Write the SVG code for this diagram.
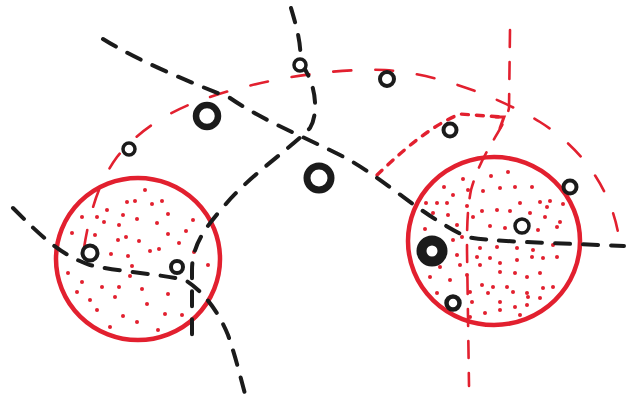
<svg xmlns="http://www.w3.org/2000/svg" width="637" height="396" viewBox="0 0 637 396">
<style>
.zone{fill:none;stroke:#e2202f;stroke-width:4.5}
.dot{fill:#e2202f}
.dot circle{r:2px}
.ring{fill:#fff;stroke:#1b1b1b}
.blk{fill:none;stroke:#1b1b1b;stroke-width:4;stroke-linecap:round;stroke-dasharray:15 13}
.red{fill:none;stroke:#e2202f;stroke-width:2.6;stroke-linecap:round;stroke-dasharray:18 24}
.redv{fill:none;stroke:#e2202f;stroke-width:2.6;stroke-linecap:round;stroke-dasharray:17 15}
.reda{fill:none;stroke:#e2202f;stroke-width:3.4;stroke-linecap:round;stroke-dasharray:7 8}
</style>
<rect width="637" height="396" fill="#fff"/>
<g id="zone-left">
<ellipse class="zone" cx="138" cy="259" rx="82" ry="81"/>
<g class="dot">
<circle cx="127" cy="202" r="2"/><circle cx="135" cy="201" r="2"/><circle cx="152" cy="204" r="2"/><circle cx="162" cy="201" r="2"/>
<circle cx="107" cy="210" r="2"/><circle cx="82" cy="217" r="2"/><circle cx="97" cy="217" r="2"/><circle cx="123" cy="215" r="2"/>
<circle cx="137" cy="219" r="2"/><circle cx="168" cy="214" r="2"/><circle cx="193" cy="220" r="2"/><circle cx="104" cy="222" r="2"/>
<circle cx="157" cy="223" r="2"/><circle cx="72" cy="233" r="2"/><circle cx="95" cy="235" r="2"/><circle cx="119" cy="225" r="2"/>
<circle cx="126" cy="237" r="2"/><circle cx="118" cy="240" r="2"/><circle cx="139" cy="241" r="2"/><circle cx="168" cy="234" r="2"/>
<circle cx="186" cy="231" r="2"/><circle cx="179" cy="243" r="2"/><circle cx="150" cy="251" r="2"/><circle cx="159" cy="249" r="2"/>
<circle cx="194" cy="252" r="2"/><circle cx="111" cy="254" r="2"/><circle cx="128" cy="256" r="2"/><circle cx="132" cy="266" r="2"/>
<circle cx="208" cy="265" r="2"/><circle cx="68" cy="273" r="2"/><circle cx="130" cy="276" r="2"/><circle cx="82" cy="282" r="2"/>
<circle cx="102" cy="287" r="2"/><circle cx="119" cy="287" r="2"/><circle cx="142" cy="289" r="2"/><circle cx="168" cy="294" r="2"/>
<circle cx="77" cy="292" r="2"/><circle cx="90" cy="300" r="2"/><circle cx="115" cy="297" r="2"/><circle cx="147" cy="304" r="2"/>
<circle cx="97" cy="310" r="2"/><circle cx="165" cy="314" r="2"/><circle cx="182" cy="315" r="2"/><circle cx="123" cy="316" r="2"/>
<circle cx="137" cy="322" r="2"/><circle cx="110" cy="327" r="2"/><circle cx="158" cy="330" r="2"/><circle cx="145" cy="190" r="2"/>
</g>
</g>
<g id="zone-right">
<ellipse class="zone" cx="494" cy="241" rx="86" ry="84"/>
<g class="dot">
<circle cx="463" cy="179" r="2"/><circle cx="491" cy="176" r="2"/><circle cx="508" cy="172" r="2"/><circle cx="444" cy="187" r="2"/>
<circle cx="468" cy="190" r="2"/><circle cx="483" cy="191" r="2"/><circle cx="500" cy="188" r="2"/><circle cx="515" cy="187" r="2"/>
<circle cx="532" cy="187" r="2"/><circle cx="453" cy="195" r="2"/><circle cx="520" cy="203" r="2"/><circle cx="540" cy="202" r="2"/>
<circle cx="550" cy="201" r="2"/><circle cx="426" cy="203" r="2"/><circle cx="437" cy="203" r="2"/><circle cx="447" cy="203" r="2"/>
<circle cx="467" cy="206" r="2"/><circle cx="482" cy="211" r="2"/><circle cx="497" cy="210" r="2"/><circle cx="510" cy="211" r="2"/>
<circle cx="547" cy="207" r="2"/><circle cx="563" cy="204" r="2"/><circle cx="433" cy="213" r="2"/><circle cx="448" cy="215" r="2"/>
<circle cx="473" cy="217" r="2"/><circle cx="530" cy="213" r="2"/><circle cx="545" cy="217" r="2"/><circle cx="560" cy="222" r="2"/>
<circle cx="425" cy="229" r="2"/><circle cx="457" cy="225" r="2"/><circle cx="490" cy="226" r="2"/><circle cx="505" cy="228" r="2"/>
<circle cx="538" cy="230" r="2"/><circle cx="557" cy="227" r="2"/><circle cx="453" cy="240" r="2"/><circle cx="462" cy="237" r="2"/>
<circle cx="480" cy="248" r="2"/><circle cx="497" cy="247" r="2"/><circle cx="517" cy="248" r="2"/><circle cx="533" cy="250" r="2"/>
<circle cx="553" cy="245" r="2"/><circle cx="443" cy="253" r="2"/><circle cx="457" cy="255" r="2"/><circle cx="477" cy="257" r="2"/>
<circle cx="490" cy="258" r="2"/><circle cx="500" cy="263" r="2"/><circle cx="517" cy="260" r="2"/><circle cx="532" cy="257" r="2"/>
<circle cx="543" cy="258" r="2"/><circle cx="557" cy="257" r="2"/><circle cx="440" cy="267" r="2"/><circle cx="460" cy="265" r="2"/>
<circle cx="480" cy="265" r="2"/><circle cx="500" cy="272" r="2"/><circle cx="515" cy="273" r="2"/><circle cx="527" cy="277" r="2"/>
<circle cx="540" cy="273" r="2"/><circle cx="430" cy="277" r="2"/><circle cx="450" cy="280" r="2"/><circle cx="467" cy="275" r="2"/>
<circle cx="482" cy="285" r="2"/><circle cx="493" cy="287" r="2"/><circle cx="507" cy="287" r="2"/><circle cx="527" cy="293" r="2"/>
<circle cx="543" cy="288" r="2"/><circle cx="553" cy="287" r="2"/><circle cx="437" cy="293" r="2"/><circle cx="470" cy="292" r="2"/>
<circle cx="488" cy="293" r="2"/><circle cx="513" cy="292" r="2"/><circle cx="528" cy="297" r="2"/><circle cx="540" cy="298" r="2"/>
<circle cx="472" cy="302" r="2"/><circle cx="500" cy="302" r="2"/><circle cx="515" cy="307" r="2"/><circle cx="527" cy="305" r="2"/>
<circle cx="485" cy="313" r="2"/><circle cx="500" cy="310" r="2"/><circle cx="470" cy="317" r="2"/><circle cx="520" cy="315" r="2"/>
</g>
</g>
<g id="connectors">
<path class="red" d="M84,248 C90,210 100,180 117,157 C140,128 175,108 210,97 C260,80 330,68 385,70 C440,74 500,98 540,122 C585,150 615,195 620,246"/>
<path class="redv" d="M510,30 L509,108 C505,128 482,150 471,190 C467,210 467,230 467,250 L469,386"/>
<path class="reda" d="M377,175 C398,155 428,127 460,114 L501,117"/>
<path d="M496,117 L504,117 L500,128" fill="none" stroke="#e2202f" stroke-width="3" stroke-linecap="round"/>
<path class="blk" d="M103,39 C140,62 190,82 230,98 C262,120 300,135 340,155 C380,175 420,215 467,237 C490,242 560,243 624,246"/>
<path class="blk" d="M291,8 C296,25 302,45 300,62 C318,85 318,115 310,128 C295,145 250,175 225,205 C205,228 192,245 192,270 L192,338"/>
<path class="blk" d="M13,208 C40,235 60,255 90,265 C120,272 160,274 185,280 C205,292 220,315 228,335 C235,355 240,375 245,394"/>
</g>
<g id="n1"><circle class="ring" cx="300" cy="65" r="6" stroke-width="3.5"/></g>
<g id="n2"><circle class="ring" cx="207" cy="116" r="11" stroke-width="6.5"/></g>
<g id="n3"><circle class="ring" cx="129" cy="149" r="6" stroke-width="3.5"/></g>
<g id="n4"><circle class="ring" cx="387" cy="79" r="7" stroke-width="4"/></g>
<g id="n5"><circle class="ring" cx="450" cy="130" r="6.5" stroke-width="4"/></g>
<g id="n6"><circle class="ring" cx="319" cy="178" r="12" stroke-width="7"/></g>
<g id="n7"><circle class="ring" cx="570" cy="187" r="6.5" stroke-width="4"/></g>
<g id="n8"><circle class="ring" cx="522" cy="226" r="7" stroke-width="3.5"/></g>
<g id="n9"><circle class="ring" cx="432" cy="251" r="10.5" stroke-width="10"/></g>
<g id="n10"><circle class="ring" cx="453" cy="303" r="6.5" stroke-width="4.5"/></g>
<g id="n11"><circle class="ring" cx="90" cy="253" r="7.5" stroke-width="4"/></g>
<g id="n12"><circle class="ring" cx="177" cy="267" r="6" stroke-width="4"/></g>
</svg>
